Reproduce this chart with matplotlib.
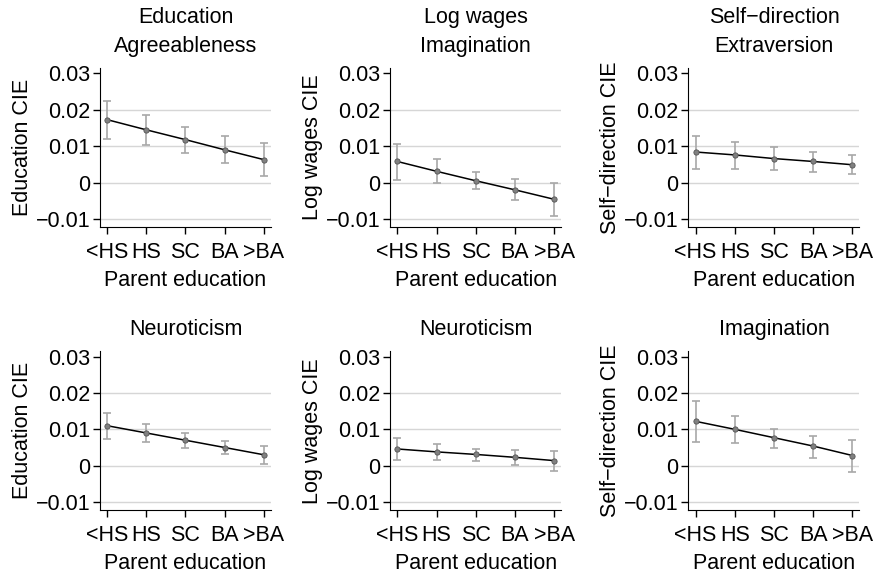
import numpy as np
import matplotlib
matplotlib.use("Agg")
import matplotlib.pyplot as plt
from matplotlib import font_manager

# use a narrow Arial-like face when there is one, else plain Liberation Sans
names = set(f.name for f in font_manager.fontManager.ttflist)
if 'Liberation Sans Narrow' in names:
    plt.rcParams['font.family'] = ['Liberation Sans Narrow', 'DejaVu Sans']
    fs = 17.5
else:
    plt.rcParams['font.family'] = ['Liberation Sans', 'DejaVu Sans']
    fs = 15.5

# parent education categories
categories = ["<HS", "HS", "SC", "BA", ">BA"]

# panel titles and y labels
titles = ["Education\nAgreeableness", "Log wages\nImagination", "Self\u2212direction\nExtraversion",
          "Neuroticism", "Neuroticism", "Imagination"]
ylabels = ["Education CIE", "Log wages CIE", "Self\u2212direction CIE",
           "Education CIE", "Log wages CIE", "Self\u2212direction CIE"]

# point estimates
est_edu_agree = [0.0173, 0.0145, 0.0118, 0.0090, 0.0063]
est_wage_imag = [0.0058, 0.0031, 0.0005, -0.0020, -0.0046]
est_self_extra = [0.0084, 0.0076, 0.0066, 0.0058, 0.0049]
est_edu_neuro = [0.0110, 0.0090, 0.0070, 0.0050, 0.0030]
est_wage_neuro = [0.0046, 0.0038, 0.0031, 0.0023, 0.0014]
est_self_imag = [0.0122, 0.0100, 0.0077, 0.0054, 0.0028]

# confidence interval bounds
lo_edu_agree = [0.0120, 0.0104, 0.0082, 0.0054, 0.0018]
hi_edu_agree = [0.0225, 0.0185, 0.0153, 0.0129, 0.0110]
lo_wage_imag = [0.0008, -0.0001, -0.0017, -0.0049, -0.0092]
hi_wage_imag = [0.0107, 0.0065, 0.0028, 0.0009, -0.0001]
lo_self_extra = [0.0038, 0.0037, 0.0035, 0.0030, 0.0024]
hi_self_extra = [0.0128, 0.0111, 0.0098, 0.0085, 0.0075]
lo_edu_neuro = [0.0074, 0.0064, 0.0049, 0.0031, 0.0005]
hi_edu_neuro = [0.0145, 0.0115, 0.0089, 0.0069, 0.0053]
lo_wage_neuro = [0.0017, 0.0017, 0.0014, 0.0003, -0.0014]
hi_wage_neuro = [0.0075, 0.0059, 0.0046, 0.0042, 0.0041]
lo_self_imag = [0.0065, 0.0062, 0.0049, 0.0022, -0.0017]
hi_self_imag = [0.0178, 0.0136, 0.0100, 0.0081, 0.0072]

estimates = [est_edu_agree, est_wage_imag, est_self_extra, est_edu_neuro, est_wage_neuro, est_self_imag]
lows = [lo_edu_agree, lo_wage_imag, lo_self_extra, lo_edu_neuro, lo_wage_neuro, lo_self_imag]
highs = [hi_edu_agree, hi_wage_imag, hi_self_extra, hi_edu_neuro, hi_wage_neuro, hi_self_imag]

yticks = [-0.01, 0, 0.01, 0.02, 0.03]
yticklabels = ["\u22120.01", "0", "0.01", "0.02", "0.03"]

fig = plt.figure(figsize=(8.77, 5.79), dpi=100)

lefts = [0.114, 0.445, 0.785]
bottoms = [0.608, 0.119]
w, h = 0.195, 0.274

x = np.arange(len(categories))
for i in range(6):
    r, c = divmod(i, 3)
    ax = fig.add_axes([lefts[c], bottoms[r], w, h])
    est = np.array(estimates[i])
    lo = np.array(lows[i])
    hi = np.array(highs[i])

    for g in [-0.01, 0, 0.01, 0.02]:
        ax.axhline(g, color="#d6d6d6", lw=1, zorder=0)

    ax.errorbar(x, est, yerr=[est - lo, hi - est], fmt="none", ecolor="#a8a8a8",
                elinewidth=1.2, capsize=3, capthick=1.2, zorder=2)
    ax.plot(x, est, color="black", lw=1.1, zorder=3)
    ax.plot(x, est, "o", color="#808080", mec="#555555", mew=0.6, ms=3.8, zorder=4)

    ax.set_xlim(-0.18, 4.18)
    ax.set_ylim(-0.0122, 0.0314)
    ax.set_xticks(x)
    ax.set_xticklabels(categories)
    ax.set_yticks(yticks)
    ax.set_yticklabels(yticklabels)
    ax.tick_params(labelsize=fs, length=5, width=1, direction="out")
    ax.tick_params(axis="y", pad=2)
    ax.tick_params(axis="x", pad=6)
    ax.spines["top"].set_visible(False)
    ax.spines["right"].set_visible(False)
    ax.set_title(titles[i], fontsize=fs, linespacing=1.45, pad=12)
    ax.set_ylabel(ylabels[i], fontsize=fs, labelpad=2)
    ax.set_xlabel("Parent education", fontsize=fs, labelpad=5)

fig.savefig("out.png", dpi=100)
